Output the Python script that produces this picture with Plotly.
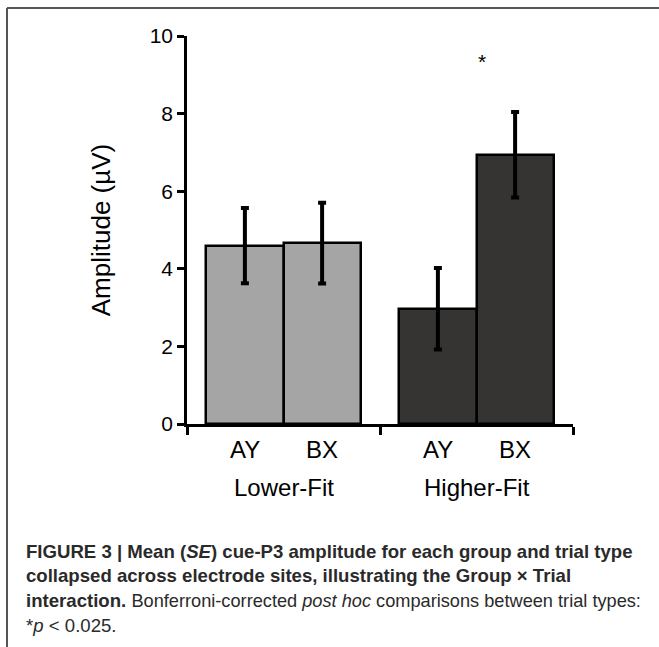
import plotly.graph_objects as go

# ---- data ----
groups = ["Lower-Fit", "Higher-Fit"]
trials = ["AY", "BX"]
means_lower = [4.60, 4.66]
se_lower = [0.97, 1.04]
means_higher = [2.97, 6.94]
se_higher = [1.05, 1.10]
y_ticks = [0, 2, 4, 6, 8, 10]
sig_label = "*"
sig_group = 1
sig_value = 9.35

# ---- layout geometry (pixels) ----
W, H = 659, 647
L, R, T, B = 187, 86, 36, 223
PW, PH = W - L - R, H - T - B

def px_x(px):
    return (px - L) / PW

def px_y(py):
    return (H - B - py) / PH

FONT = "Liberation Sans, Arial, sans-serif"
offsets = [-0.2, 0.2]
bar_w = 0.4

fig = go.Figure()
series = [(means_lower, se_lower, "#a5a5a5"), (means_higher, se_higher, "#363432")]
for gi, (m, s, col) in enumerate(series):
    xs = [gi + 0.5 + o for o in offsets]
    fig.add_trace(go.Bar(
        x=xs, y=m, width=bar_w,
        marker=dict(color=col, line=dict(color="black", width=2.5)),
        error_y=dict(type="data", array=s, visible=True, color="black",
                     thickness=4, width=4),
        showlegend=False, hoverinfo="skip",
    ))
    for xi, t in zip(xs, trials):
        fig.add_annotation(x=xi, y=px_y(449), xref="x", yref="paper", text=t,
                           showarrow=False, yanchor="middle",
                           font=dict(family=FONT, size=24, color="black"))
    fig.add_annotation(x=gi + 0.5, y=px_y(487), xref="x", yref="paper",
                       text=groups[gi], showarrow=False, yanchor="middle",
                       font=dict(family=FONT, size=24, color="black"))

fig.add_annotation(x=sig_group + 0.53, y=sig_value, xref="x", yref="y",
                   text=sig_label, showarrow=False,
                   font=dict(family=FONT, size=21, color="black"))

# caption
cap_lines = [
    "<b>FIGURE 3 | Mean (<i>SE</i>) cue-P3 amplitude for each group and trial type</b>",
    "<b>collapsed across electrode sites, illustrating the Group × Trial</b>",
    "<b>interaction.</b> <span style=\"font-size:18.2px\">Bonferroni-corrected <i>post hoc</i> comparisons between trial types:</span>",
    "*<i>p</i> &lt; 0.025.",
]
cap_y = [551, 575.5, 600.5, 625.5]
for txt, cy in zip(cap_lines, cap_y):
    fig.add_annotation(x=px_x(24), y=px_y(cy), xref="paper", yref="paper",
                       text=txt, showarrow=False, xanchor="left", yanchor="middle",
                       font=dict(family=FONT, size=18.6, color="#2a2a2a"))

# frame lines
fig.add_shape(type="line", xref="paper", yref="paper", layer="above",
              x0=px_x(7), x1=px_x(659), y0=px_y(8), y1=px_y(8),
              line=dict(color="#555555", width=2))
fig.add_shape(type="line", xref="paper", yref="paper", layer="above",
              x0=px_x(7), x1=px_x(7), y0=px_y(8), y1=px_y(647),
              line=dict(color="#555555", width=2))

fig.update_layout(
    width=W, height=H,
    margin=dict(l=L, r=R, t=T, b=B, pad=0),
    plot_bgcolor="white", paper_bgcolor="white",
    bargap=0,
    xaxis=dict(range=[0, 2], showline=True, linecolor="black", linewidth=2.5,
               showgrid=False, zeroline=False, tickvals=[0, 1, 2],
               ticktext=["", "", ""], ticks="outside", ticklen=8,
               tickwidth=2.5, tickcolor="black", fixedrange=True),
    yaxis=dict(range=[0, 10], showline=True, linecolor="black", linewidth=2.5,
               showgrid=False, zeroline=False, tickvals=y_ticks,
               ticks="outside", ticklen=7, tickwidth=2.5, tickcolor="black",
               tickfont=dict(family=FONT, size=21, color="black"),
               fixedrange=True,
               title=dict(text="Amplitude (µV)", standoff=32,
                          font=dict(family=FONT, size=26, color="black"))),
    font=dict(family=FONT),
)

fig.write_html("out.html", config={"displayModeBar": False},
               post_script="document.body.style.margin='0';")
